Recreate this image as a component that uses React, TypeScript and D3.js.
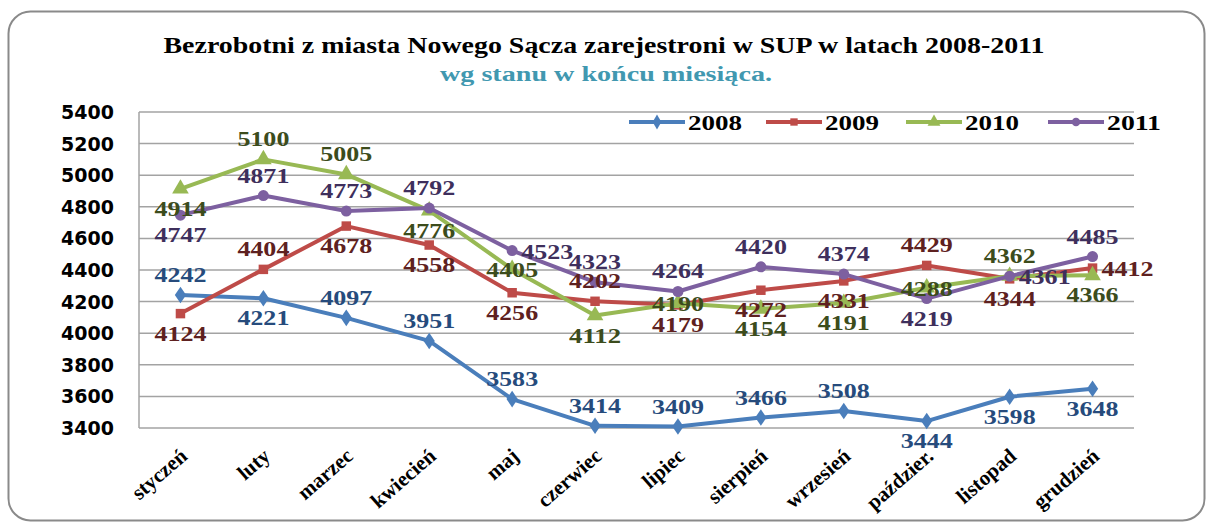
import React from "react";
import * as d3 from "d3";

const months = ["styczeń", "luty", "marzec", "kwiecień", "maj", "czerwiec", "lipiec", "sierpień", "wrzesień", "paździer.", "listopad", "grudzień"];

const years = ["2008", "2009", "2010", "2011"];
const v2008 = [4242, 4221, 4097, 3951, 3583, 3414, 3409, 3466, 3508, 3444, 3598, 3648];
const v2009 = [4124, 4404, 4678, 4558, 4256, 4202, 4179, 4272, 4331, 4429, 4344, 4412];
const v2010 = [4914, 5100, 5005, 4776, 4405, 4112, 4190, 4154, 4191, 4288, 4362, 4366];
const v2011 = [4747, 4871, 4773, 4792, 4523, 4323, 4264, 4420, 4374, 4219, 4361, 4485];

// where each value label sits: a = above, b = below, c = centre, r = right
const labelPos = ["abaaaaaaabbb", "babbbabbbabr", "baabcbcbbcab", "baaaraaaabra"];

const lineColors = ["#4a7ebb", "#be4b48", "#98b954", "#7d60a0"];
const labelColors = ["#264b7c", "#5e2120", "#3c4c1c", "#3e2f5c"];
const symbols = [d3.symbolDiamond, d3.symbolSquare, d3.symbolTriangle, d3.symbolCircle];
const symbolSizes = [110, 90, 120, 95];

const W = 1206;
const H = 524;
const serif = "'Liberation Serif', 'Times New Roman', serif";

export default function App() {
  const series = [v2008, v2009, v2010, v2011];

  const x = d3.scaleBand().domain(months).range([139, 1134]);
  const cx = (i: number) => (x(months[i]) as number) + x.bandwidth() / 2;
  const y = d3.scaleLinear().domain([3400, 5400]).range([428, 112]);

  const line = d3
    .line<number>()
    .x((_, i) => cx(i))
    .y((d) => y(d));

  const legendX = [629, 766, 906, 1048];

  return (
    <div style={{ position: "absolute", left: 0, top: 0 }}>
      <svg width={W} height={H} style={{ display: "block", background: "#fff" }}>
        <rect x={8.5} y={11.5} width={1196} height={509} rx={22} fill="#fff" stroke="#8a8a8a" strokeWidth={2} />

        <text x={604} y={53} textAnchor="middle" fontFamily={serif} fontWeight="bold" fontSize={24} textLength={881} lengthAdjust="spacingAndGlyphs" fill="#000">
          Bezrobotni z miasta Nowego Sącza zarejestroni w SUP w latach 2008-2011
        </text>
        <text x={606} y={81} textAnchor="middle" fontFamily={serif} fontWeight="bold" fontSize={22} textLength={332} lengthAdjust="spacingAndGlyphs" fill="#4198b0">
          wg stanu w końcu miesiąca.
        </text>

        {/* grid */}
        <g stroke="#a3a3a3" strokeWidth={1.5}>
          {y.ticks(10).map((t) => (
            <line key={t} x1={139} x2={1134} y1={y(t)} y2={y(t)} />
          ))}
          <line x1={139} x2={139} y1={y(5400)} y2={y(3400)} />
        </g>

        {/* y axis labels */}
        <g fontFamily="'DejaVu Sans', Verdana, sans-serif" fontWeight="bold" fontSize={19} fill="#000" textAnchor="end">
          {y.ticks(10).map((t) => (
            <text key={t} x={114} y={y(t) + 7}>
              {t}
            </text>
          ))}
        </g>

        {/* x axis labels */}
        <g fontFamily={serif} fontWeight="bold" fontSize={21} fill="#000" textAnchor="end">
          {months.map((m, i) => (
            <text key={m} transform={`translate(${cx(i) + 8},${458}) rotate(-41)`}>
              {m}
            </text>
          ))}
        </g>

        {/* lines */}
        {series.map((s, k) => (
          <g key={years[k]}>
            <path d={line(s) || ""} fill="none" stroke={lineColors[k]} strokeWidth={4} strokeLinejoin="round" />
            {s.map((v, i) => (
              <path
                key={i}
                d={d3.symbol(symbols[k], symbolSizes[k])() || ""}
                transform={`translate(${cx(i)},${y(v)})${k === 0 ? " scale(1,0.85)" : ""}`}
                fill={lineColors[k]}
              />
            ))}
          </g>
        ))}

        {/* value labels */}
        {series.map((s, k) => (
          <g key={"l" + years[k]} fontFamily={serif} fontWeight="bold" fontSize={22} fill={labelColors[k]}>
            {s.map((v, i) => {
              const p = labelPos[k][i];
              const px = cx(i);
              const py = y(v);
              if (p === "r") {
                return (
                  <text key={i} x={px + 9} y={py + 8} textLength={52} lengthAdjust="spacingAndGlyphs">
                    {v}
                  </text>
                );
              }
              const dy = p === "a" ? -13 : p === "b" ? 27 : 8;
              return (
                <text key={i} x={px - 26} y={py + dy} textLength={52} lengthAdjust="spacingAndGlyphs">
                  {v}
                </text>
              );
            })}
          </g>
        ))}

        {/* legend */}
        {years.map((yr, k) => (
          <g key={"lg" + yr} transform={`translate(${legendX[k]},122)`}>
            <line x1={0} x2={56} y1={0} y2={0} stroke={lineColors[k]} strokeWidth={4} />
            <path d={d3.symbol(symbols[k], symbolSizes[k] * 0.6)() || ""} transform="translate(28,0)" fill={lineColors[k]} />
            <text x={59} y={8} fontFamily={serif} fontWeight="bold" fontSize={22} fill="#000" textLength={54} lengthAdjust="spacingAndGlyphs">
              {yr}
            </text>
          </g>
        ))}
      </svg>
    </div>
  );
}
